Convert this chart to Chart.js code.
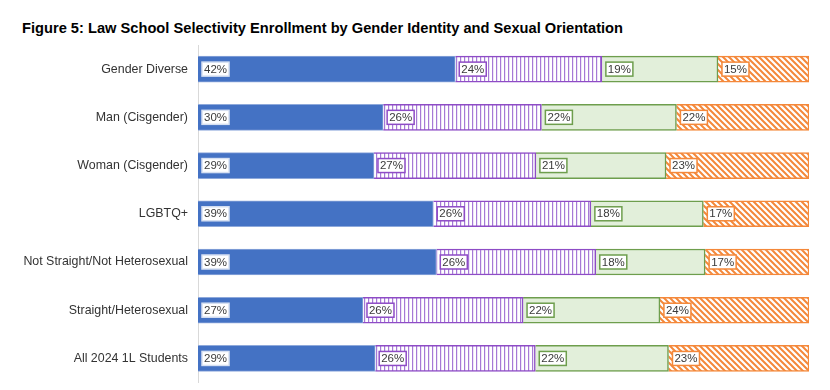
<!DOCTYPE html>
<html>
<head>
<meta charset="utf-8">
<script src="https://cdn.jsdelivr.net/npm/chart.js@4"></script>
<style>
  html, body { margin: 0; padding: 0; background: #fff; overflow: hidden; }
  #wrap { position: relative; width: 830px; height: 390px; overflow: hidden; }
  #title {
    position: absolute; left: 22px; top: 19px;
    font: bold 15px "Liberation Sans", Arial, sans-serif;
    color: #000; white-space: nowrap; transform-origin: 0 0;
  }
  canvas { position: absolute; left: 0; top: 0; }
</style>
</head>
<body>
<div id="wrap">
  <div id="title">Figure 5: Law School Selectivity Enrollment by Gender Identity and Sexual Orientation</div>
  <canvas id="chart" width="830" height="400"></canvas>
</div>
<script>
// Categorie e valori (%)
const categories = [
  "Gender Diverse",
  "Man (Cisgender)",
  "Woman (Cisgender)",
  "LGBTQ+",
  "Not Straight/Not Heterosexual",
  "Straight/Heterosexual",
  "All 2024 1L Students"
];
const tier1 = [42.1, 30.3, 28.8, 38.5, 39.0, 27.0, 29.0];
const tier2 = [24.0, 25.9, 26.5, 25.8, 26.1, 26.2, 26.2];
const tier3 = [19.0, 22.1, 21.3, 18.4, 17.9, 22.4, 21.8];
const tier4 = [14.9, 21.7, 23.4, 17.3, 17.0, 24.4, 23.0];
const seriesNames = ["Tier 1", "Tier 2", "Tier 3", "Tier 4"];

// Titolo stretto come nell'originale (font narrow)
const titleEl = document.getElementById("title");
const tw = titleEl.getBoundingClientRect().width;
titleEl.style.transform = "scaleX(" + (601 / tw) + ")";

// Pattern a righe verticali (viola)
function verticalStripes(color) {
  const c = document.createElement("canvas");
  c.width = 4; c.height = 4;
  const g = c.getContext("2d");
  g.fillStyle = "#fff";
  g.fillRect(0, 0, 4, 4);
  g.fillStyle = color;
  g.fillRect(0, 0, 1.2, 4);
  return g.createPattern(c, "repeat");
}

// Pattern a righe diagonali (arancione)
function diagonalStripes(color) {
  const s = 6;
  const c = document.createElement("canvas");
  c.width = s; c.height = s;
  const g = c.getContext("2d");
  g.fillStyle = "#fff";
  g.fillRect(0, 0, s, s);
  g.strokeStyle = color;
  g.lineWidth = 2;
  g.beginPath();
  g.moveTo(-1, -1); g.lineTo(s + 1, s + 1);
  g.moveTo(-1, s - 1); g.lineTo(1, s + 1);
  g.moveTo(s - 1, -1); g.lineTo(s + 1, 1);
  g.stroke();
  return g.createPattern(c, "repeat");
}

const PURPLE = "#8E4CC6";
const PURPLE_STRIPE = "#A679D6";
const ORANGE = "#F4883A";

// Etichette percentuali in riquadri bianchi
const boxLabels = {
  id: "boxLabels",
  afterDatasetsDraw(chart) {
    const ctx = chart.ctx;
    ctx.save();
    ctx.font = "11.5px 'Liberation Sans', Arial, sans-serif";
    ctx.textBaseline = "middle";
    chart.data.datasets.forEach((ds, i) => {
      const meta = chart.getDatasetMeta(i);
      meta.data.forEach((bar, j) => {
        const txt = Math.round(ds.data[j]) + "%";
        const w = ctx.measureText(txt).width + 4;
        const h = 14;
        const x = Math.min(bar.base, bar.x) + 4;
        const y = bar.y - h / 2;
        ctx.fillStyle = "#fff";
        ctx.fillRect(x, y, w, h);
        ctx.strokeStyle = ds.labelBorder;
        ctx.lineWidth = 1.5;
        ctx.strokeRect(x, y, w, h);
        ctx.fillStyle = "#3A3A3A";
        ctx.fillText(txt, x + 2, bar.y + 0.5);
      });
    });
    ctx.restore();
  }
};

new Chart(document.getElementById("chart"), {
  type: "bar",
  data: {
    labels: categories,
    datasets: [
      {
        label: seriesNames[0], data: tier1,
        backgroundColor: "#4472C4", borderColor: "#8EA9DB", borderWidth: 1,
        labelBorder: "#D6E0F2"
      },
      {
        label: seriesNames[1], data: tier2,
        backgroundColor: verticalStripes(PURPLE_STRIPE), borderColor: PURPLE, borderWidth: 1.5,
        labelBorder: PURPLE
      },
      {
        label: seriesNames[2], data: tier3,
        backgroundColor: "#E2EFDA", borderColor: "#6E9E4D", borderWidth: 1.5,
        labelBorder: "#6E9E4D"
      },
      {
        label: seriesNames[3], data: tier4,
        backgroundColor: diagonalStripes(ORANGE), borderColor: ORANGE, borderWidth: 1.5,
        labelBorder: ORANGE
      }
    ]
  },
  options: {
    indexAxis: "y",
    responsive: false,
    animation: false,
    layout: { padding: { top: 45, right: 21, bottom: 0, left: 0 } },
    datasets: { bar: { barThickness: 26 } },
    plugins: {
      legend: { display: false },
      tooltip: { enabled: false }
    },
    scales: {
      x: {
        stacked: true, min: 0, max: 100,
        display: false
      },
      y: {
        stacked: true,
        grid: { display: false, drawTicks: false },
        border: { display: true, color: "#D9D9D9", width: 1 },
        ticks: {
          padding: 10,
          color: "#333",
          font: { family: "'Liberation Sans', Arial, sans-serif", size: 12.4 }
        },
        afterFit(scale) { scale.width = 198; }
      }
    }
  },
  plugins: [boxLabels]
});
</script>
</body>
</html>
